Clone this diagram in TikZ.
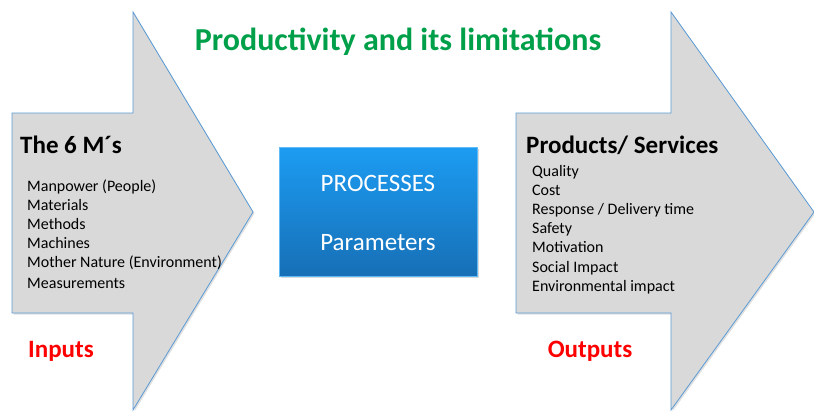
\documentclass[tikz,border=0pt]{standalone}
\usepackage{fontspec}
\setmainfont{Carlito}
\usepackage{tikz}
\usetikzlibrary{positioning, shadows}

\definecolor{arrowgray}{HTML}{D9D9D9}
\definecolor{arrowline}{HTML}{5B9BD5}
\definecolor{titlegreen}{HTML}{00A04A}
\definecolor{boxtop}{HTML}{1C9CF2}
\definecolor{boxbottom}{HTML}{176FB6}

\tikzset{
    bigarrow/.style = {fill=arrowgray, draw=arrowline, line width=0.8pt,
        drop shadow={shadow xshift=1.5pt, shadow yshift=-1.5pt, opacity=0.25}},
    heading/.style = {anchor=west, inner sep=0pt, font=\fontsize{25}{27}\selectfont\bfseries},
    items/.style = {anchor=north west, align=left, inner sep=0pt, font=\fontsize{16}{19}\selectfont},
    tag/.style = {text=red, font=\fontsize{25}{27}\selectfont\bfseries},
    boxtext/.style = {text=white, font=\fontsize{25}{27}\selectfont}
}

\begin{document}
\begin{tikzpicture}[x=1pt, y=-1pt]
        \useasboundingbox (0,0) rectangle (814,412);
        % the two big arrows
        \draw[bigarrow] (12,113) -- (133,113) -- (133,12) -- (253,212)
            -- (133,410) -- (133,313) -- (12,313) -- cycle;
        \draw[bigarrow] (516,113) -- (671,113) -- (671,12) -- (814,212)
            -- (671,410) -- (671,313) -- (516,313) -- cycle;

        \node[text=titlegreen, font=\fontsize{32}{34}\selectfont\bfseries] (title) at (398,42)
            {Productivity and its limitations};

        % inputs
        \node[heading] (inhead) at (20,145) {The 6 M´s};
        \node[items] (inlist) at (27,180)
            {Manpower (People)\\ Materials\\ Methods\\ Machines\\
             Mother Nature (Environment)\\[1.5pt] Measurements};
        \node[tag] (inputs) at (61,351) {Inputs};

        % processes box
        \node[minimum width=198pt, minimum height=129pt, top color=boxtop, bottom color=boxbottom,
            draw=boxtop!70!white, line width=0.4pt,
            drop shadow={shadow xshift=2pt, shadow yshift=-2pt, opacity=0.3}] (proc) at (378,211.5) {};
        \node[boxtext] (procname) at (378,183) {PROCESSES};
        \node[boxtext] (params) at (378,243) {Parameters};

        % outputs
        \node[heading] (outhead) at (526,145) {Products/ Services};
        \node[items] (outlist) at (532,165)
            {Quality\\ Cost\\ Response / Delivery time\\ Safety\\ Motivation\\[1.5pt]
             Social Impact\\ Environmental impact};
        \node[tag] (outputs) at (590,351) {Outputs};
    \end{tikzpicture}
\end{document}
